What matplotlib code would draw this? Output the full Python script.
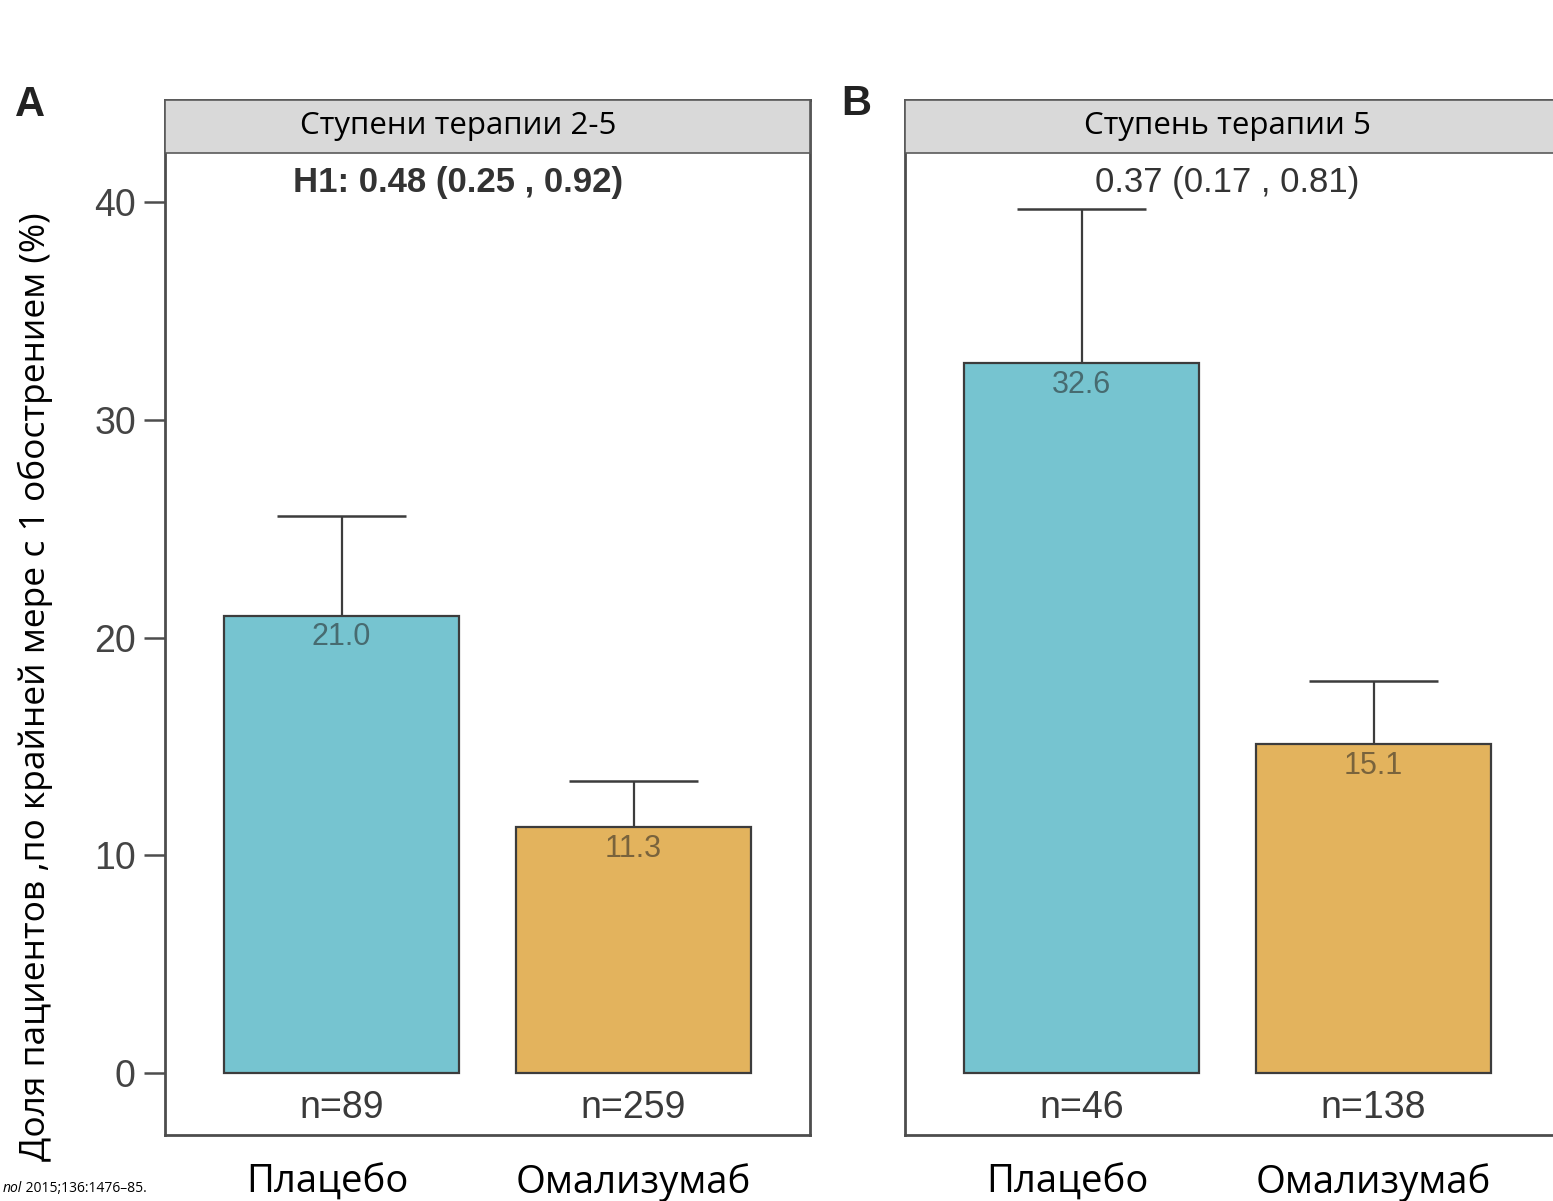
import matplotlib
matplotlib.use("Agg")
import matplotlib.pyplot as plt
from matplotlib import font_manager
from matplotlib.patches import Rectangle
from matplotlib.transforms import blended_transform_factory
import numpy as np

# share of patients with >=1 exacerbation, %
groups = ["Плацебо", "Омализумаб"]
n_a = ["n=89", "n=259"]
n_b = ["n=46", "n=138"]
vals_a = [21.0, 11.3]
vals_b = [32.6, 15.1]
upper_a = [25.6, 13.4]
upper_b = [39.7, 18.0]
titles = ["Ступени терапии 2-5", "Ступень терапии 5"]
ratios = ["H1: 0.48 (0.25 , 0.92)", "0.37 (0.17 , 0.81)"]
yticks = [0, 10, 20, 30, 40]

installed = {f.name for f in font_manager.fontManager.ttflist}
narrow = "Liberation Sans Narrow" if "Liberation Sans Narrow" in installed else "Liberation Sans"
HELV = ["Liberation Sans", "DejaVu Sans"]
CAL = ["Open Sans", "DejaVu Sans"]

TEAL = "#76c4d0"
GOLD = "#e3b35d"
EDGE = "#3c3c3c"
AXC = "#4d4d4d"

fig = plt.figure(figsize=(15.53, 12.01), dpi=100)
W, H = 1553.0, 1201.0

def make_axes(left_px, width_px):
    return fig.add_axes([left_px / W, (H - 1135) / H, width_px / W, 1035 / H])

ax_a = make_axes(165, 645)
ax_b = make_axes(905, 700)

x = np.array([1.0, 2.0])
px_per_unit = 292.0


def draw_panel(ax, width_px, vals, upper, ns, title, ratio, ratio_bold, text_x):
    ax.set_xlim(0.395, 0.395 + width_px / px_per_unit)
    ax.set_ylim(-2.85, 44.7)
    ax.bar(x, vals, width=0.805, color=[TEAL, GOLD], edgecolor=EDGE,
           linewidth=1.6, zorder=2)
    # upper error bars only
    ax.vlines(x, vals, upper, color=EDGE, linewidth=1.6, zorder=1)
    ax.hlines(upper, x - 0.22, x + 0.22, color=EDGE, linewidth=1.8, zorder=1)
    for xi, v in zip(x, vals):
        ax.text(xi, v - 0.3, f"{v:.1f}", ha="center", va="top", fontsize=22,
                family=HELV, color="#222222", alpha=0.55, zorder=3)
    for xi, n in zip(x, ns):
        ax.text(xi, -1.6, n, ha="center", va="center", fontsize=27,
                family=HELV, color="#3a3a3a")
    ax.text(text_x, 40.9, ratio, ha="center", va="center", fontsize=29 if narrow != "Liberation Sans" else 25,
            family=[narrow, "DejaVu Sans"], color="#333333",
            fontweight="bold" if ratio_bold else "normal")
    # grey strip with the panel header
    ax.add_patch(Rectangle((0, 0.9488), 1, 0.0512, transform=ax.transAxes,
                           facecolor="#d9d9d9", edgecolor="#5a5a5a",
                           linewidth=1.2, zorder=4, clip_on=False))
    ax.text(text_x, 0.9744, title, transform=blended_transform_factory(ax.transData, ax.transAxes),
            ha="center", va="center", fontsize=22.5, family=CAL, color="black", zorder=5)
    ax.set_xticks([])
    for s in ax.spines.values():
        s.set_color(AXC)
        s.set_linewidth(2.0)
    # group names below the box
    tr = blended_transform_factory(ax.transData, fig.transFigure)
    for xi, g, dx in zip(x, groups, [-0.05, 0.0]):
        ax.text(xi + dx, 1 - 1183 / H, g, transform=tr, ha="center", va="center",
                fontsize=27.5, family=CAL, color="black")


draw_panel(ax_a, 645, vals_a, upper_a, n_a, titles[0], ratios[0], True, 1.40)
draw_panel(ax_b, 700, vals_b, upper_b, n_b, titles[1], ratios[1], False, 1.50)

ax_a.set_yticks(yticks)
ax_a.set_yticklabels([str(t) for t in yticks], family=HELV, fontsize=27, color="#444444")
ax_a.tick_params(axis="y", length=15, width=1.8, color=AXC, pad=6)
ax_b.set_yticks([])

fig.text(35 / W, 1 - 687 / H, "Доля пациентов ,по крайней мере с 1 обострением (%)",
         rotation=90, ha="center", va="center", fontsize=25.5, family=CAL)

fig.text(30 / W, 1 - 105 / H, "A", ha="center", va="center", fontsize=30,
         fontweight="bold", family=HELV, color="#222222")
fig.text(856 / W, 1 - 104 / H, "B", ha="center", va="center", fontsize=30,
         fontweight="bold", family=HELV, color="#222222")

fig.text(22 / W, 1 - 1188 / H, "nol", ha="right", va="center", fontsize=10,
         style="italic", family=CAL)
fig.text(22 / W, 1 - 1188 / H, " 2015;136:1476–85.", ha="left", va="center",
         fontsize=10, family=CAL)

fig.savefig("out.png", dpi=100)
